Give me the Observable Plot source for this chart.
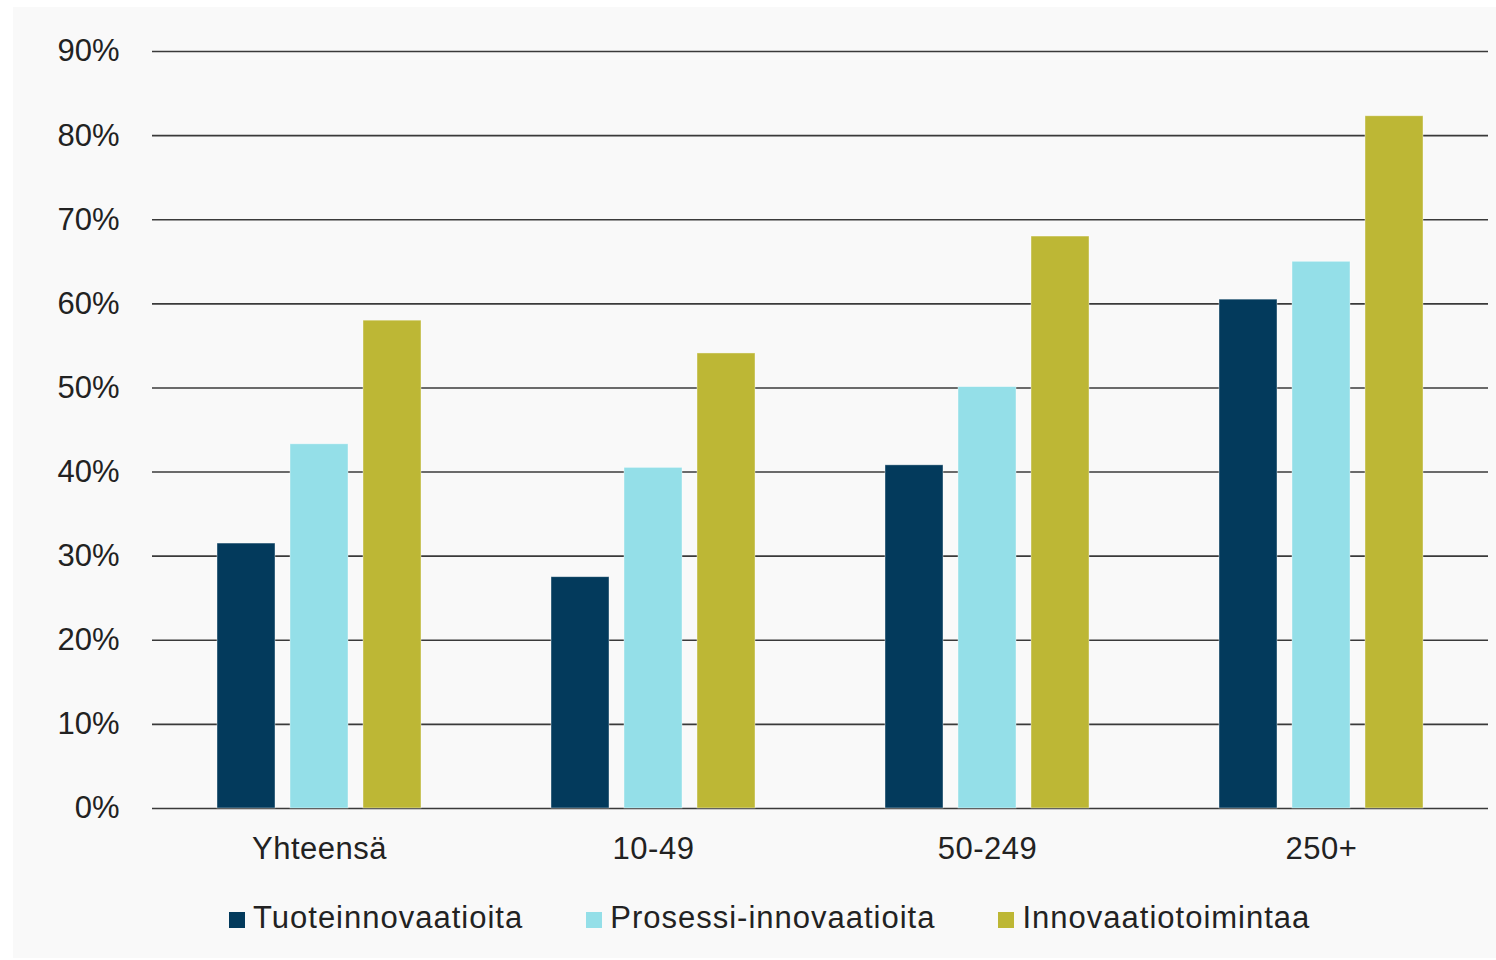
<!DOCTYPE html>
<html><head><meta charset="utf-8">
<script src="https://cdn.jsdelivr.net/npm/d3@7"></script>
<script src="https://cdn.jsdelivr.net/npm/@observablehq/plot@0.6"></script>
<style>
body{margin:0;background:#fff;font-family:"Liberation Sans",Arial,sans-serif;}
#panel{position:absolute;left:13px;top:7px;width:1483px;height:951px;background:#f9f9f9;}
#chart{position:absolute;left:0;top:0;}
#legend{position:absolute;left:229px;top:900px;display:flex;align-items:center;gap:63px;font-size:31px;color:#222;letter-spacing:1px;}
#legend .item{display:flex;align-items:center;}
#legend .sw{width:16px;height:16px;margin-right:8px;margin-top:4px;}
</style>
</head><body>
<div id="panel"></div>
<div id="chart"></div>
<div id="legend"></div>
<script>
const categories = ["Yhteensä", "10-49", "50-249", "250+"];
const seriesNames = ["Tuoteinnovaatioita", "Prosessi-innovaatioita", "Innovaatiotoimintaa"];
const seriesColors = ["#033a5c", "#94dfe8", "#bdb735"];
const tuote = [31.5, 27.5, 40.8, 60.5];
const prosessi = [43.3, 40.5, 50.1, 65.0];
const toiminta = [58.0, 54.1, 68.0, 82.3];
const yTicks = [0, 10, 20, 30, 40, 50, 60, 70, 80, 90];

const seriesValues = [tuote, prosessi, toiminta];
const rows = [];
categories.forEach((c, i) => {
  seriesNames.forEach((s, j) => rows.push({cat: c, series: s, value: seriesValues[j][i]}));
});

const chart = Plot.plot({
  width: 1496,
  height: 880,
  marginLeft: 152,
  marginRight: 8,
  marginTop: 51,
  marginBottom: 72,
  style: {background: "transparent", fontSize: "31px", fontFamily: "'Liberation Sans', Arial, sans-serif", color: "#222"},
  fx: {domain: categories, paddingInner: 0, paddingOuter: 0, label: null, axis: "bottom", tickSize: 0, tickPadding: 28},
  x: {domain: seriesNames, paddingInner: 0.211, paddingOuter: 0.878, axis: null},
  y: {domain: [0, 90], ticks: yTicks, tickFormat: d => d + "%", tickSize: 0, tickPadding: 33, label: null},
  color: {domain: seriesNames, range: seriesColors},
  marks: [
    Plot.ruleY(yTicks, {stroke: "#3a3a3a", strokeWidth: 1.6}),
    Plot.barY(rows, {fx: "cat", x: "series", y: "value", fill: "series", stroke: "#ffffff", strokeWidth: 0.8, strokeOpacity: 0.5})
  ]
});
chart.querySelectorAll("g[aria-label='fx-axis tick label'] text, g[aria-label='fx-axis'] text").forEach(t => t.setAttribute("letter-spacing", "0.5"));
document.getElementById("chart").appendChild(chart);

const legend = document.getElementById("legend");
seriesNames.forEach((s, i) => {
  const it = document.createElement("div");
  it.className = "item";
  const sw = document.createElement("span");
  sw.className = "sw";
  sw.style.background = seriesColors[i];
  const t = document.createElement("span");
  t.textContent = s;
  it.appendChild(sw); it.appendChild(t);
  legend.appendChild(it);
});
</script>
</body></html>
